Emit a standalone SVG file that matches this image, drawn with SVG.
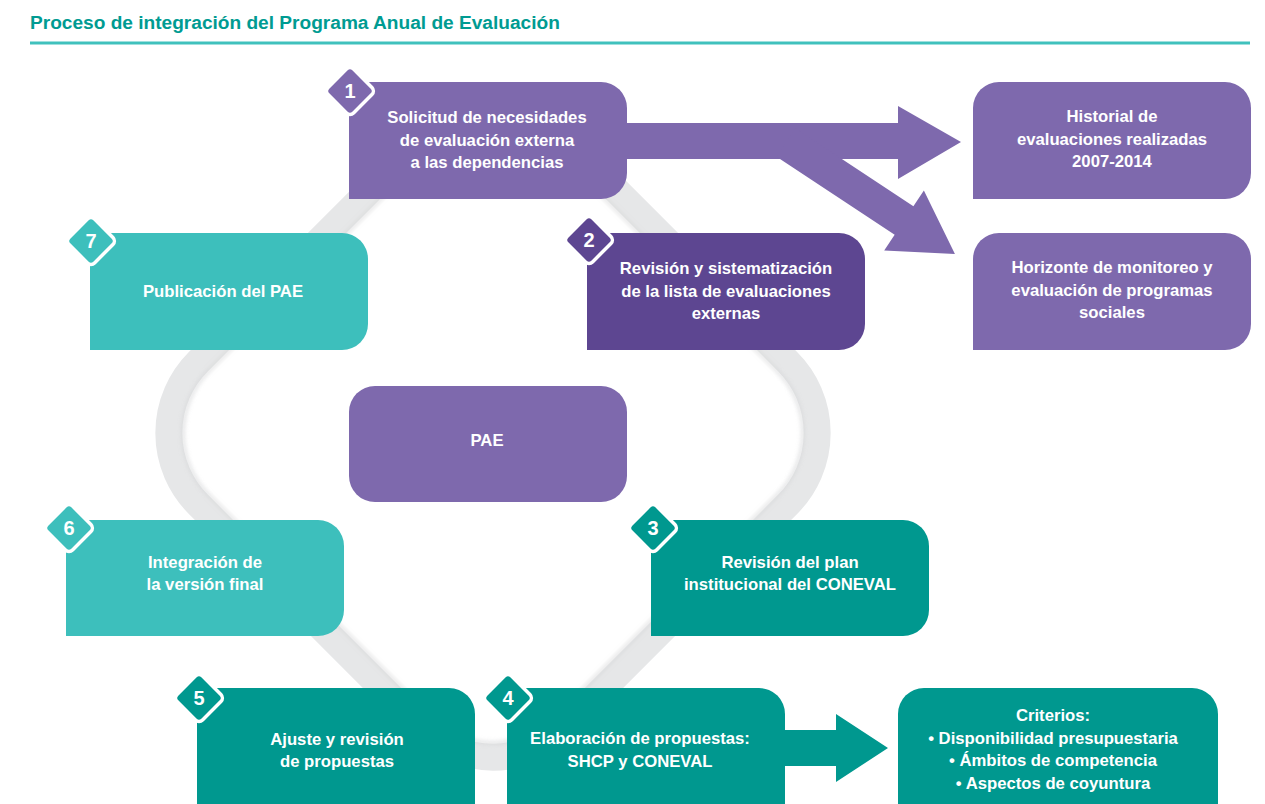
<svg xmlns="http://www.w3.org/2000/svg" width="1265" height="804" viewBox="0 0 1265 804">
  <defs>
    <style>
      .title { font-family: "Liberation Sans", Arial, sans-serif; font-weight: bold; font-size: 19.1px; fill: #009b92; }
      .lbl { font-family: "Liberation Sans", Arial, sans-serif; font-weight: bold; font-size: 16.7px; fill: #ffffff; text-anchor: middle; }
      .num { font-family: "Liberation Sans", Arial, sans-serif; font-weight: bold; font-size: 20px; fill: #ffffff; text-anchor: middle; }
      .purple { fill: #7e69ad; }
      .dpurple { fill: #5d4691; }
      .lteal { fill: #3dbfbc; }
      .dteal { fill: #00988f; }
      .badge { stroke: #ffffff; stroke-width: 3.5; }
    </style>
    <filter id="soft" x="-10%" y="-10%" width="120%" height="120%">
      <feGaussianBlur stdDeviation="2"/>
    </filter>
  </defs>

  <rect width="1265" height="804" fill="#ffffff"/>

  <!-- heading -->
  <g id="heading">
    <text class="title" x="30" y="29">Proceso de integración del Programa Anual de Evaluación</text>
    <rect x="30" y="41.5" width="1220" height="3" fill="#40c1bd"/>
  </g>

  <!-- grey cycle ring behind the steps -->
  <g id="ring">
    <rect x="-258.8" y="-258.8" width="517.6" height="517.6" rx="101" transform="translate(493,433) rotate(45)" fill="none" stroke="#e6e7e8" stroke-width="27"/>
    <rect x="-245" y="-245" width="490" height="490" rx="88" transform="translate(493,433) rotate(45)" fill="none" stroke="#d3d4d6" stroke-width="3" filter="url(#soft)" opacity="0.8"/>
  </g>

  <!-- connectors -->
  <g id="connectors">
    <polygon class="purple" points="620,123 898,123 898,106 961,142 898,179 898,159 620,159"/>
    <polygon class="purple" transform="translate(811,159) rotate(33.45)" points="-30,-17 111.5,-17 111.5,-36 172.5,0 111.5,36 111.5,17 -30,17"/>
    <polygon class="dteal" points="780,730 836,730 836,714 888,748 836,782 836,766 780,766"/>
  </g>

  <!-- step 1 -->
  <g id="step1">
    <path class="purple" d="M349,82 H601 A26,26 0 0 1 627,108 V173 A26,26 0 0 1 601,199 H349 Z"/>
    <rect class="purple badge" x="-18" y="-18" width="36" height="36" rx="5" transform="translate(350,91) rotate(45)"/>
    <text class="num" x="350" y="98">1</text>
    <text class="lbl" x="487" y="123">Solicitud de necesidades</text>
    <text class="lbl" x="487" y="145.5">de evaluación externa</text>
    <text class="lbl" x="487" y="168">a las dependencias</text>
  </g>

  <!-- historical record -->
  <g id="historial">
    <path class="purple" d="M999,82 H1225 A26,26 0 0 1 1251,108 V173 A26,26 0 0 1 1225,199 H973 V108 A26,26 0 0 1 999,82 Z"/>
    <text class="lbl" x="1112" y="122">Historial de</text>
    <text class="lbl" x="1112" y="144.5">evaluaciones realizadas</text>
    <text class="lbl" x="1112" y="167">2007-2014</text>
  </g>

  <!-- monitoring horizon -->
  <g id="horizonte">
    <path class="purple" d="M999,233 H1225 A26,26 0 0 1 1251,259 V324 A26,26 0 0 1 1225,350 H973 V259 A26,26 0 0 1 999,233 Z"/>
    <text class="lbl" x="1112" y="273">Horizonte de monitoreo y</text>
    <text class="lbl" x="1112" y="295.5">evaluación de programas</text>
    <text class="lbl" x="1112" y="318">sociales</text>
  </g>

  <!-- step 7 -->
  <g id="step7">
    <path class="lteal" d="M90,233 H342 A26,26 0 0 1 368,259 V324 A26,26 0 0 1 342,350 H90 Z"/>
    <rect class="lteal badge" x="-18" y="-18" width="36" height="36" rx="5" transform="translate(91,241) rotate(45)"/>
    <text class="num" x="91" y="248">7</text>
    <text class="lbl" x="223" y="297">Publicación del PAE</text>
  </g>

  <!-- step 2 -->
  <g id="step2">
    <path class="dpurple" d="M587,233 H839 A26,26 0 0 1 865,259 V324 A26,26 0 0 1 839,350 H587 Z"/>
    <rect class="dpurple badge" x="-18" y="-18" width="36" height="36" rx="5" transform="translate(589,240) rotate(45)"/>
    <text class="num" x="589" y="247">2</text>
    <text class="lbl" x="726" y="274">Revisión y sistematización</text>
    <text class="lbl" x="726" y="296.5">de la lista de evaluaciones</text>
    <text class="lbl" x="726" y="319">externas</text>
  </g>

  <!-- centre: PAE -->
  <g id="pae">
    <rect class="purple" x="349" y="386" width="278" height="116" rx="26"/>
    <text class="lbl" x="487" y="446">PAE</text>
  </g>

  <!-- step 6 -->
  <g id="step6">
    <path class="lteal" d="M66,520 H318 A26,26 0 0 1 344,546 V610 A26,26 0 0 1 318,636 H66 Z"/>
    <rect class="lteal badge" x="-18" y="-18" width="36" height="36" rx="5" transform="translate(69,528) rotate(45)"/>
    <text class="num" x="69" y="535">6</text>
    <text class="lbl" x="205" y="568">Integración de</text>
    <text class="lbl" x="205" y="590">la versión final</text>
  </g>

  <!-- step 3 -->
  <g id="step3">
    <path class="dteal" d="M651,520 H903 A26,26 0 0 1 929,546 V610 A26,26 0 0 1 903,636 H651 Z"/>
    <rect class="dteal badge" x="-18" y="-18" width="36" height="36" rx="5" transform="translate(653,528) rotate(45)"/>
    <text class="num" x="653" y="535">3</text>
    <text class="lbl" x="790" y="568">Revisión del plan</text>
    <text class="lbl" x="790" y="590">institucional del CONEVAL</text>
  </g>

  <!-- step 5 -->
  <g id="step5">
    <path class="dteal" d="M197,688 H449 A26,26 0 0 1 475,714 V830 H197 Z"/>
    <rect class="dteal badge" x="-18" y="-18" width="36" height="36" rx="5" transform="translate(199,698) rotate(45)"/>
    <text class="num" x="199" y="705">5</text>
    <text class="lbl" x="337" y="745">Ajuste y revisión</text>
    <text class="lbl" x="337" y="767">de propuestas</text>
  </g>

  <!-- step 4 -->
  <g id="step4">
    <path class="dteal" d="M507,688 H759 A26,26 0 0 1 785,714 V830 H507 Z"/>
    <rect class="dteal badge" x="-18" y="-18" width="36" height="36" rx="5" transform="translate(508,698) rotate(45)"/>
    <text class="num" x="508" y="705">4</text>
    <text class="lbl" x="640" y="744">Elaboración de propuestas:</text>
    <text class="lbl" x="640" y="767">SHCP y CONEVAL</text>
  </g>

  <!-- selection criteria -->
  <g id="criterios">
    <path class="dteal" d="M924,688 H1192 A26,26 0 0 1 1218,714 V830 H898 V714 A26,26 0 0 1 924,688 Z"/>
    <text class="lbl" x="1053" y="721">Criterios:</text>
    <text class="lbl" x="1053" y="743.5">• Disponibilidad presupuestaria</text>
    <text class="lbl" x="1053" y="766">• Ámbitos de competencia</text>
    <text class="lbl" x="1053" y="788.5">• Aspectos de coyuntura</text>
  </g>
</svg>
